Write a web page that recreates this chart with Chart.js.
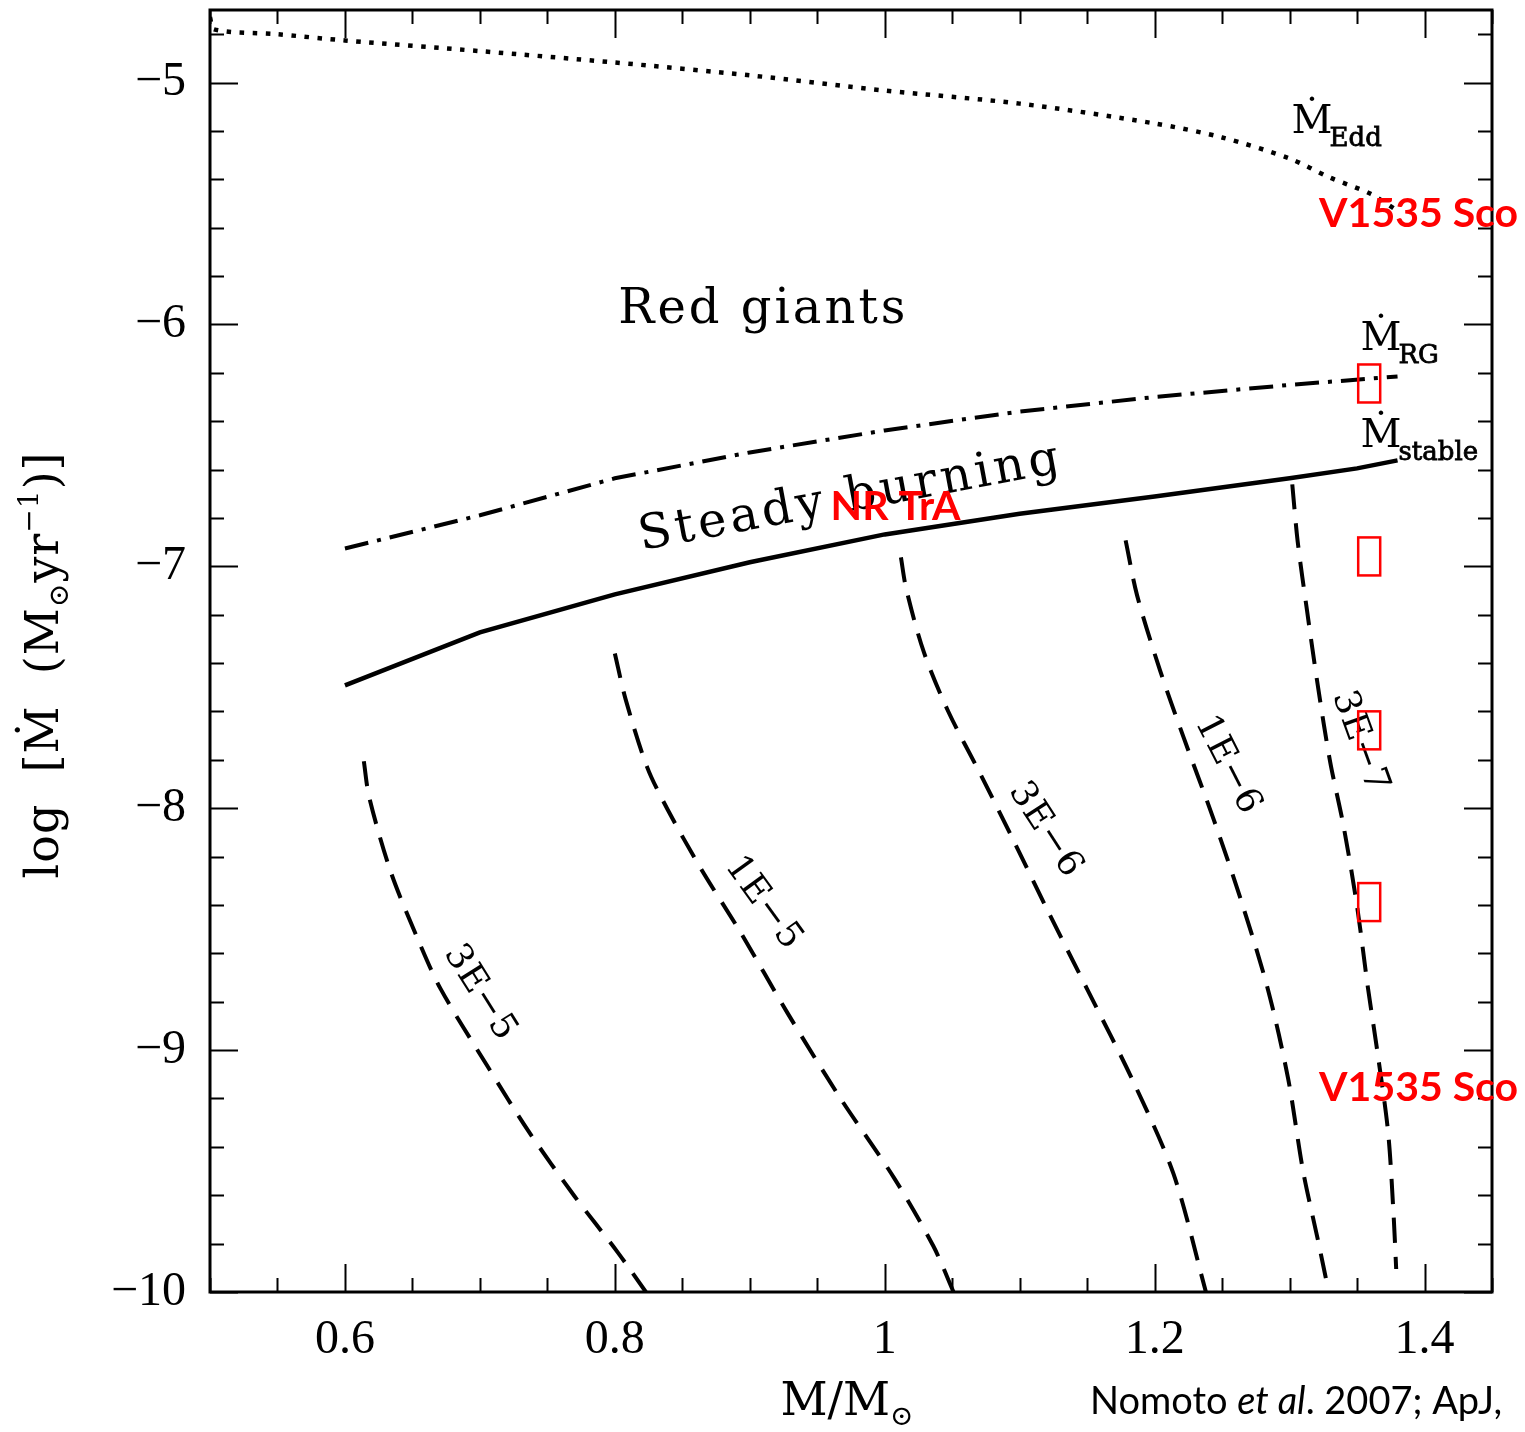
<!DOCTYPE html>
<html>
<head>
<meta charset="utf-8">
<script src="https://cdn.jsdelivr.net/npm/chart.js@4.4.1/dist/chart.umd.min.js"></script>
<style>
  html, body { margin: 0; padding: 0; background: #fff; }
  #wrap { width: 1525px; height: 1432px; }
</style>
</head>
<body>
<div id="wrap"><canvas id="c" width="1525" height="1432"></canvas></div>
<script>
// White dwarf mass (M/Msun) and log accretion rate (Msun/yr) along each boundary.
const eddMass  = [0.500, 0.503, 0.55, 0.60, 0.70, 0.80, 0.90, 1.00, 1.10, 1.20, 1.25, 1.30, 1.33, 1.36, 1.38];
const eddRate  = [-4.73, -4.78, -4.80, -4.826, -4.87, -4.917, -4.97, -5.033, -5.087, -5.169, -5.227, -5.314, -5.393, -5.46, -5.53];

const rgMass   = [0.60, 0.70, 0.80, 0.90, 1.00, 1.10, 1.20, 1.30, 1.38];
const rgRate   = [-6.926, -6.789, -6.636, -6.529, -6.438, -6.36, -6.30, -6.25, -6.215];

const stbMass  = [0.60, 0.70, 0.80, 0.90, 1.00, 1.10, 1.20, 1.30, 1.35, 1.38];
const stbRate  = [-7.492, -7.273, -7.116, -6.983, -6.868, -6.783, -6.711, -6.636, -6.595, -6.562];

// Recurrence-period contours (yr)
const c3e5Mass = [0.614, 0.618, 0.634, 0.654, 0.671, 0.706, 0.736, 0.770, 0.802, 0.823];
const c3e5Rate = [-7.806, -7.955, -8.264, -8.541, -8.748, -9.070, -9.335, -9.603, -9.835, -10.0];

const c1e5Mass = [0.800, 0.808, 0.824, 0.839, 0.864, 0.893, 0.928, 0.967, 1.007, 1.036, 1.051];
const c1e5Rate = [-7.360, -7.550, -7.831, -8.004, -8.252, -8.512, -8.847, -9.198, -9.529, -9.810, -10.0];

const c3e6Mass = [1.012, 1.016, 1.029, 1.047, 1.071, 1.096, 1.121, 1.150, 1.184, 1.214, 1.238];
const c3e6Rate = [-6.963, -7.095, -7.355, -7.599, -7.860, -8.140, -8.426, -8.748, -9.128, -9.512, -10.0];

const c1e6Mass = [1.1785, 1.187, 1.204, 1.221, 1.244, 1.264, 1.284, 1.299, 1.310, 1.321, 1.329];
const c1e6Rate = [-6.893, -7.12, -7.43, -7.70, -8.05, -8.38, -8.75, -9.12, -9.50, -9.785, -10.0];

const c3e7Mass = [1.302, 1.306, 1.313, 1.321, 1.330, 1.340, 1.350, 1.358, 1.365, 1.373, 1.377, 1.379];
const c3e7Rate = [-6.661, -6.897, -7.186, -7.496, -7.806, -8.074, -8.405, -8.740, -9.004, -9.339, -9.674, -9.905];

// Axis ticks
const xTickValues = [0.6, 0.8, 1.0, 1.2, 1.4];
const xTickLabels = ['0.6', '0.8', '1', '1.2', '1.4'];
const yTickValues = [-10, -9, -8, -7, -6, -5];
const yTickLabels = ['\u221210', '\u22129', '\u22128', '\u22127', '\u22126', '\u22125'];

// Contour labels: text, mass, rate, rotation (deg)
const contourText  = ['3E\u22125', '1E\u22125', '3E\u22126', '1E\u22126', '3E\u22127'];
const contourMass  = [0.700, 0.910, 1.119, 1.254, 1.352];
const contourRate  = [-8.764, -8.393, -8.091, -7.822, -7.727];
const contourAngle = [58, 54, 57, 63, 70];

// Highlighted objects
const objText = ['V1535 Sco', 'NR TrA', 'V1535 Sco'];
const objMass = [1.3956, 1.008, 1.3956];
const objRate = [-5.541, -6.752, -9.157];
// Unrendered symbol boxes beside the 1.36 Msun column
const boxMass = [1.359, 1.359, 1.359, 1.359];
const boxRate = [-6.244, -6.959, -7.678, -8.388];

const pts = (xs, ys) => xs.map((x, i) => ({ x: x, y: ys[i] }));
const SERIF = '"DejaVu Serif", serif';
const TICKF = '"Liberation Serif", "DejaVu Serif", serif';
const SANS = 'Lato, "Open Sans", sans-serif';

function line(data, dash, width, tension) {
  return {
    data: data, showLine: true, pointRadius: 0, borderColor: '#000',
    borderWidth: width, borderDash: dash, tension: tension, fill: false,
    borderCapStyle: 'butt'
  };
}

const frame = {
  id: 'frame',
  afterDatasetsDraw(chart) {
    const ctx = chart.ctx, a = chart.chartArea;
    const xs = chart.scales.x, ys = chart.scales.y;
    const X = v => xs.getPixelForValue(v), Y = v => ys.getPixelForValue(v);
    ctx.save();
    ctx.strokeStyle = '#000';
    ctx.lineWidth = 2;
    // x ticks every 0.05, long ones at each 0.2
    for (let k = 10; k <= 29; k++) {
      const v = k * 0.05;
      if (v < xs.min - 1e-9 || v > xs.max + 1e-9) continue;
      const major = Math.abs(v * 5 - Math.round(v * 5)) < 1e-6;
      const L = major ? 28 : 14;
      const px = Math.round(X(v)) + 0.5;
      ctx.beginPath();
      ctx.moveTo(px, a.bottom); ctx.lineTo(px, a.bottom - L);
      ctx.moveTo(px, a.top); ctx.lineTo(px, a.top + L);
      ctx.stroke();
    }
    // y ticks every 0.2, long ones at integers
    for (let k = -50; k <= -23; k++) {
      const v = k * 0.2;
      if (v < ys.min - 1e-9 || v > ys.max + 1e-9) continue;
      const major = Math.abs(v - Math.round(v)) < 1e-6;
      const L = major ? 28 : 14;
      const py = Math.round(Y(v)) + 0.5;
      ctx.beginPath();
      ctx.moveTo(a.left, py); ctx.lineTo(a.left + L, py);
      ctx.moveTo(a.right, py); ctx.lineTo(a.right - L, py);
      ctx.stroke();
    }
    ctx.lineWidth = 3;
    ctx.strokeRect(a.left, a.top, a.right - a.left, a.bottom - a.top);

    // region and curve labels
    const txt = (s, x, y, font, opt) => {
      opt = opt || {};
      ctx.save();
      ctx.translate(x, y);
      if (opt.rot) ctx.rotate(opt.rot * Math.PI / 180);
      ctx.font = font;
      ctx.fillStyle = opt.color || '#000';
      ctx.textAlign = opt.align || 'center';
      ctx.textBaseline = opt.base || 'middle';
      if (opt.ls) ctx.letterSpacing = opt.ls + 'px';
      ctx.fillText(s, 0, 0);
      ctx.restore();
    };

    txt('Red giants', X(0.910), Y(-5.942), '48px ' + SERIF, { ls: 3 });
    txt('Steady burning', X(0.975), Y(-6.719), '48px ' + SERIF, { rot: -10.5, ls: 4 });

    for (let i = 0; i < contourText.length; i++) {
      txt(contourText[i], X(contourMass[i]), Y(contourRate[i]), '36px ' + SERIF, { rot: contourAngle[i], ls: 1 });
    }

    // Mdot labels with subscripts
    const mdot = (x, y, sub) => {
      ctx.save();
      ctx.font = '40px ' + SERIF;
      ctx.fillStyle = '#000';
      ctx.textAlign = 'left';
      ctx.textBaseline = 'alphabetic';
      ctx.fillText('\u1E40', x, y);
      const w = ctx.measureText('\u1E40').width;
      ctx.font = '26px ' + SERIF;
      ctx.lineWidth = 0.8;
      ctx.strokeStyle = '#000';
      ctx.fillText(sub, x + w - 3, y + 13);
      ctx.strokeText(sub, x + w - 3, y + 13);
      ctx.restore();
    };
    mdot(X(1.3015), Y(-5.2066), 'Edd');
    mdot(X(1.3526), Y(-6.107), 'RG');
    mdot(X(1.3526), Y(-6.508), 'stable');

    // highlighted systems
    for (let i = 0; i < objText.length; i++) {
      txt(objText[i], X(objMass[i]), Y(objRate[i]), 'bold 41px ' + SANS, { color: '#ff0000' });
    }
    ctx.strokeStyle = '#ff0000';
    ctx.lineWidth = 2.5;
    for (let i = 0; i < boxMass.length; i++) {
      const cx = X(boxMass[i]), cy = Y(boxRate[i]);
      ctx.strokeRect(cx - 11, cy - 19, 22, 38);
    }

    // x title: M/M(sun)
    ctx.save();
    ctx.fillStyle = '#000';
    ctx.textBaseline = 'alphabetic';
    ctx.textAlign = 'left';
    ctx.font = '46px ' + SERIF;
    const main = 'M/M';
    const wm = ctx.measureText(main).width;
    ctx.font = '28px ' + SERIF;
    const ws = ctx.measureText('\u2299').width;
    const x0 = (a.left + a.right) / 2 - (wm + ws) / 2 - 4;
    const by = 1415;
    ctx.font = '46px ' + SERIF;
    ctx.fillText(main, x0, by);
    ctx.font = '28px ' + SERIF;
    ctx.fillText('\u2299', x0 + wm, by + 10);
    ctx.restore();

    // y title: log [Mdot (M(sun) yr^-1)]
    ctx.save();
    ctx.translate(58, 665);
    ctx.rotate(-Math.PI / 2);
    ctx.fillStyle = '#000';
    ctx.textBaseline = 'alphabetic';
    ctx.textAlign = 'left';
    ctx.letterSpacing = '1px';
    const parts = [
      ['log  [\u1E40  (M', '46px ', 0],
      ['\u2299', '28px ', 10],
      ['yr', '46px ', 0],
      ['\u22121', '28px ', -20],
      [')]', '46px ', 0]
    ];
    let total = 0;
    parts.forEach(p => { ctx.font = p[1] + SERIF; total += ctx.measureText(p[0]).width; });
    let cx = -total / 2;
    parts.forEach(p => {
      ctx.font = p[1] + SERIF;
      ctx.fillText(p[0], cx, p[2]);
      cx += ctx.measureText(p[0]).width;
    });
    ctx.restore();

    // citation
    ctx.save();
    ctx.fillStyle = '#000';
    ctx.textBaseline = 'alphabetic';
    ctx.textAlign = 'left';
    let cx2 = 1090;
    const cy2 = 1414;
    const seg = [['Nomoto ', '38px '], ['et al', 'italic 38px '], ['. 2007; ApJ,', '38px ']];
    seg.forEach(s => {
      ctx.font = s[1] + SANS;
      ctx.fillText(s[0], cx2, cy2);
      cx2 += ctx.measureText(s[0]).width;
    });
    ctx.restore();

    ctx.restore();
  }
};

new Chart(document.getElementById('c'), {
  type: 'scatter',
  data: {
    datasets: [
      line(pts(eddMass, eddRate), [4.5, 8.5], 4.5, 0.3),
      line(pts(rgMass, rgRate), [24, 9, 4, 9], 4, 0),
      line(pts(stbMass, stbRate), [], 4.5, 0),
      line(pts(c3e5Mass, c3e5Rate), [25, 14], 4, 0.3),
      line(pts(c1e5Mass, c1e5Rate), [25, 14], 4, 0.3),
      line(pts(c3e6Mass, c3e6Rate), [25, 14], 4, 0.3),
      line(pts(c1e6Mass, c1e6Rate), [25, 14], 4, 0.3),
      line(pts(c3e7Mass, c3e7Rate), [25, 14], 4, 0.3)
    ]
  },
  options: {
    responsive: false,
    animation: false,
    layout: { padding: { top: 10, right: 33, left: 0, bottom: 0 } },
    plugins: { legend: { display: false }, tooltip: { enabled: false } },
    scales: {
      x: {
        type: 'linear', min: 0.5, max: 1.45,
        grid: { display: false, drawTicks: false },
        border: { display: false },
        afterBuildTicks: s => { s.ticks = xTickValues.map(v => ({ value: v })); },
        afterFit: s => { s.height = 140; s.paddingLeft = 0; s.paddingRight = 0; },
        ticks: {
          padding: 20, color: '#000', maxRotation: 0, autoSkip: false,
          font: { family: TICKF, size: 48 },
          callback: (v) => { const i = xTickValues.findIndex(t => Math.abs(t - v) < 1e-9); return i >= 0 ? xTickLabels[i] : ''; }
        }
      },
      y: {
        type: 'linear', min: -10, max: -4.7,
        grid: { display: false, drawTicks: false },
        border: { display: false },
        afterBuildTicks: s => { s.ticks = yTickValues.map(v => ({ value: v })); },
        afterFit: s => { s.width = 210; s.paddingTop = 0; s.paddingBottom = 0; },
        ticks: {
          padding: 24, color: '#000', autoSkip: false,
          font: { family: TICKF, size: 48 },
          callback: (v) => { const i = yTickValues.findIndex(t => Math.abs(t - v) < 1e-9); return i >= 0 ? yTickLabels[i] : ''; }
        }
      }
    }
  },
  plugins: [frame]
});
</script>
</body>
</html>
